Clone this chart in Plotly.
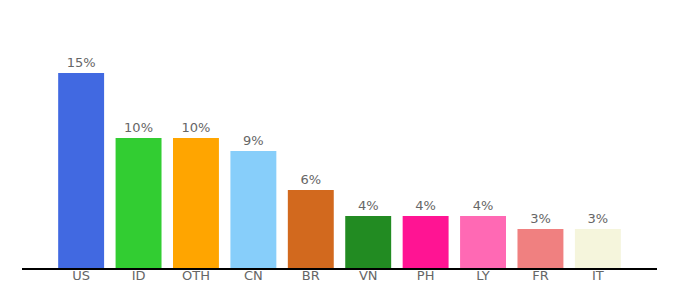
import plotly.graph_objects as go

countries = ["US", "ID", "OTH", "CN", "BR", "VN", "PH", "LY", "FR", "IT"]
shares = [15, 10, 10, 9, 6, 4, 4, 4, 3, 3]
labels = ["15%", "10%", "10%", "9%", "6%", "4%", "4%", "4%", "3%", "3%"]
colors = ["#4169e1", "#32cd32", "#ffa500", "#87cefa", "#d2691e",
          "#228b22", "#ff1493", "#ff69b4", "#f08080", "#f5f5dc"]

fig = go.Figure(go.Bar(
    x=countries, y=shares, text=labels, textposition="outside",
    marker=dict(color=colors, line=dict(width=0)),
    width=0.8, cliponaxis=False,
    textfont=dict(family="DejaVu Sans", size=13, color="#666666"),
))

fig.update_layout(
    width=680, height=300,
    margin=dict(l=22, r=23, t=20, b=32),
    paper_bgcolor="white", plot_bgcolor="white",
    showlegend=False,
    font=dict(family="DejaVu Sans", size=13, color="#666666"),
    xaxis=dict(range=[-1.03, 10.03], showline=True, linecolor="black", linewidth=1.5,
               ticks="", showgrid=False, ticklabelstandoff=-5,
               tickfont=dict(size=13, color="#666666")),
    yaxis=dict(range=[0, 19.08], visible=False, showgrid=False),
)

fig.write_html("out.html")
